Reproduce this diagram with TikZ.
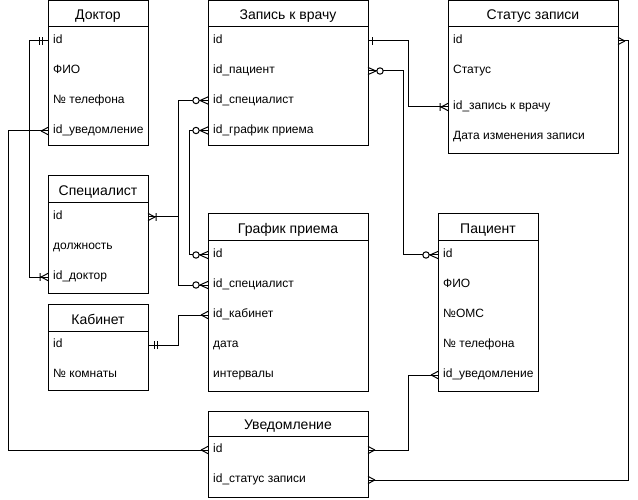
\documentclass[tikz,border=0pt]{standalone}
\usepackage{fontspec}
\setmainfont{Liberation Sans}
\usetikzlibrary{calc}

\tikzset{
  ent/.style={draw, line width=1pt, anchor=north west, inner sep=0pt, outer sep=0pt},
  hdr/.style={font=\fontsize{14}{16}\selectfont, anchor=base, inner sep=0pt},
  fld/.style={font=\fontsize{12}{14}\selectfont, anchor=mid west, inner sep=0pt},
  link/.style={line width=1pt},
  % crow's-foot end marks, drawn with the entity edge at the origin
  % and the connector arriving from negative x
  pics/crow/.style={code={\draw[link] (-7,0) -- (0,-3.6) (-7,0) -- (0,3.6);}},
  pics/zerocrow/.style={code={
    \draw[link] (-8,0) -- (0,-3.6) (-8,0) -- (0,3.6);
    \draw[link, fill=white] (-12,0) circle[radius=3.2pt];}},
  pics/barcrow/.style={code={
    \draw[link] (-7,0) -- (0,-3.6) (-7,0) -- (0,3.6) (-8,-3.8) -- (-8,3.8);}},
  pics/twobar/.style={code={\draw[link] (-9,-3.8) -- (-9,3.8) (-6,-3.8) -- (-6,3.8);}},
  pics/onebar/.style={code={\draw[link] (-4,-3.8) -- (-4,3.8);}},
}

% #1 name, #2 x, #3 y, #4 width, #5 height, #6 header height, #7 title
\newcommand\erentity[7]{%
  \node[ent, minimum width=#4pt, minimum height=#5pt] (#1) at (#2,#3) {};
  \draw[link] ($(#1.north west)+(0,#6)$) -- ($(#1.north east)+(0,#6)$);
  \node[hdr] (#1-title) at ($(#1.north)+(0,#6-7)$) {#7};
}
% #1 name, #2 x, #3 y, #4 text
\newcommand\erfield[4]{\node[fld] (#1) at (#2,#3) {#4};}

\begin{document}
\begin{tikzpicture}[x=1pt,y=-1pt]
\fill[white] (0,0) rectangle (638,500);
\useasboundingbox (0,0) rectangle (638,500);

% ---- entities ----
\erentity{doc}{48}{0.5}{100}{145.5}{26}{Доктор}
\erfield{doc-id}{53}{41}{id}
\erfield{doc-fio}{53}{71}{ФИО}
\erfield{doc-tel}{53}{101}{№ телефона}
\erfield{doc-notif}{53}{131}{id\_уведомление}

\erentity{rec}{208}{0.5}{160}{145.5}{26}{Запись к врачу}
\erfield{rec-id}{213}{41}{id}
\erfield{rec-pat}{213}{71}{id\_пациент}
\erfield{rec-spec}{213}{100.5}{id\_специалист}
\erfield{rec-sched}{213}{130.5}{id\_график приема}

\erentity{stat}{448}{0.5}{170}{153.5}{26}{Статус записи}
\erfield{stat-id}{453}{41}{id}
\erfield{stat-status}{453}{71}{Статус}
\erfield{stat-rec}{453}{107}{id\_запись к врачу}
\erfield{stat-date}{453}{137}{Дата изменения записи}

\erentity{spec}{48}{176}{100}{117}{27}{Специалист}
\erfield{spec-id}{53}{217}{id}
\erfield{spec-pos}{53}{247}{должность}
\erfield{spec-doc}{53}{277}{id\_доктор}

\erentity{sched}{208}{214}{160}{177}{27}{График приема}
\erfield{sched-id}{213}{255}{id}
\erfield{sched-spec}{213}{285}{id\_специалист}
\erfield{sched-cab}{213}{315}{id\_кабинет}
\erfield{sched-date}{213}{345}{дата}
\erfield{sched-int}{213}{375}{интервалы}

\erentity{cab}{48}{304}{100}{86}{27}{Кабинет}
\erfield{cab-id}{53}{345}{id}
\erfield{cab-room}{53}{375}{№ комнаты}

\erentity{pat}{438}{214}{100}{177}{27}{Пациент}
\erfield{pat-id}{443}{255}{id}
\erfield{pat-fio}{443}{285}{ФИО}
\erfield{pat-oms}{443}{315}{№ОМС}
\erfield{pat-tel}{443}{345}{№ телефона}
\erfield{pat-notif}{443}{375}{id\_уведомление}

\erentity{notif}{208}{411}{160}{86}{25}{Уведомление}
\erfield{notif-id}{213}{450}{id}
\erfield{notif-stat}{213}{480}{id\_статус записи}

% ---- relationships ----
\draw[link] (doc.west |- doc-id.mid) -- ++(-19,0) |- (spec.west |- spec-doc.mid);
\draw[link] (doc.west |- doc-notif.mid) -- ++(-40,0) |- (notif.west |- notif-id.mid);
\draw[link] (spec.east |- spec-id.mid) -- ++(30,0) |- (rec.west |- rec-spec.mid);
\draw[link] (spec.east |- spec-id.mid) -- ++(30,0) |- (sched.west |- sched-spec.mid);
\draw[link] (rec.west |- rec-sched.mid) -- ++(-18.5,0) |- (sched.west |- sched-id.mid);
\draw[link] (cab.east |- cab-id.mid) -- ++(30,0) |- (sched.west |- sched-cab.mid);
\draw[link] (rec.east |- rec-id.mid) -- ++(40,0) |- (stat.west |- stat-rec.mid);
\draw[link] (rec.east |- rec-pat.mid) -- ++(35,0) |- (pat.west |- pat-id.mid);
\draw[link] (stat.east |- stat-id.mid) -- ++(10,0) |- (notif.east |- notif-stat.mid);
\draw[link] (pat.west |- pat-notif.mid) -- ++(-30,0) |- (notif.east |- notif-id.mid);

% ---- end marks ----
\pic at (doc.west |- doc-id.mid) {twobar};
\pic at (spec.west |- spec-doc.mid) {barcrow};
\pic at (doc.west |- doc-notif.mid) {crow};
\pic at (notif.west |- notif-id.mid) {crow};
\pic[rotate=180] at (spec.east |- spec-id.mid) {barcrow};
\pic at (rec.west |- rec-spec.mid) {zerocrow};
\pic at (sched.west |- sched-spec.mid) {zerocrow};
\pic at (rec.west |- rec-sched.mid) {zerocrow};
\pic at (sched.west |- sched-id.mid) {zerocrow};
\pic[rotate=180] at (cab.east |- cab-id.mid) {twobar};
\pic at (sched.west |- sched-cab.mid) {crow};
\pic[rotate=180] at (rec.east |- rec-id.mid) {onebar};
\pic at (stat.west |- stat-rec.mid) {barcrow};
\pic[rotate=180] at (rec.east |- rec-pat.mid) {zerocrow};
\pic at (pat.west |- pat-id.mid) {zerocrow};
\pic[rotate=180] at (stat.east |- stat-id.mid) {crow};
\pic[rotate=180] at (notif.east |- notif-stat.mid) {crow};
\pic at (pat.west |- pat-notif.mid) {crow};
\pic[rotate=180] at (notif.east |- notif-id.mid) {crow};
\end{tikzpicture}
\end{document}
